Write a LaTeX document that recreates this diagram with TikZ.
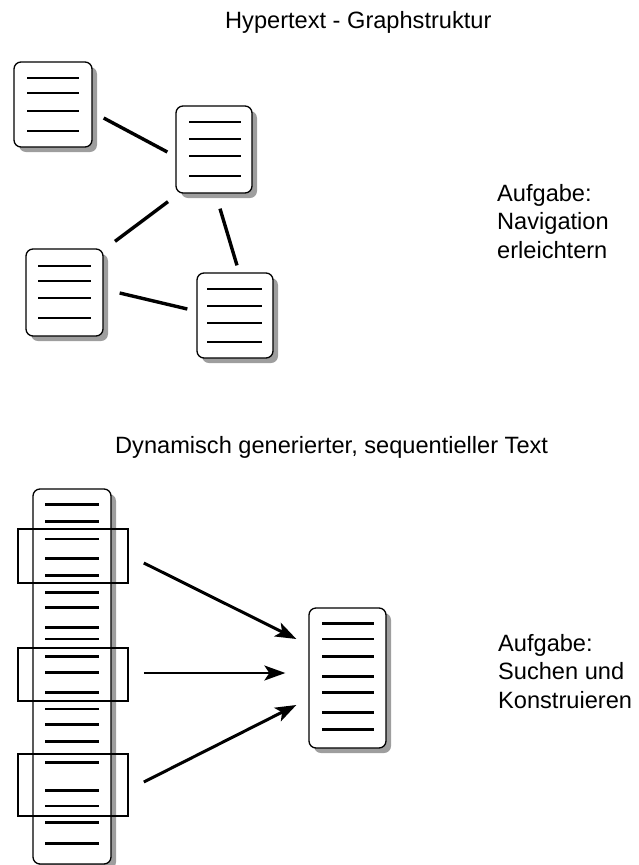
\documentclass[tikz,border=0pt]{standalone}
\usepackage{fontspec}
\setmainfont{Liberation Sans}
\usetikzlibrary{shadows,calc,arrows.meta}

\tikzset{
  doc/.style={draw, line width=1.3pt, rounded corners=7pt, fill=white, inner sep=0pt,
    drop shadow={shadow xshift=5pt, shadow yshift=-5pt, fill=black!38, opacity=1}},
  txtline/.style={line width=2.5pt},
  link/.style={line width=3.4pt},
  frame/.style={draw, line width=1.7pt, inner sep=0pt},
  flow/.style={line width=3pt, -{Stealth[length=21pt, width=15pt, inset=5pt]}},
  label/.style={font=\fontsize{23.6}{28.5}\selectfont, inner sep=0pt},
}

\begin{document}
\begin{tikzpicture}[x=1pt, y=-1pt]
\useasboundingbox (0,0) rectangle (638,865);

% ---------- upper part: hypertext as a graph ----------
\node[label, anchor=base west] (t1) at (225,28) {Hypertext - Graphstruktur};

\node[doc, minimum width=78pt, minimum height=85pt] (A) at (53,104.5) {};
\node[doc, minimum width=76pt, minimum height=87pt] (B) at (214,149.5) {};
\node[doc, minimum width=77pt, minimum height=87pt] (C) at (64.5,292.5) {};
\node[doc, minimum width=76pt, minimum height=85pt] (D) at (235,315.5) {};

\foreach \y in {78,93,111,131} \draw[txtline] (27,\y) -- (79,\y);
\foreach \y in {122,139,156,176} \draw[txtline] (189,\y) -- (241,\y);
\foreach \y in {266,281,298,318} \draw[txtline] (38,\y) -- (91,\y);
\foreach \y in {289,306,323,342} \draw[txtline] (207,\y) -- (262,\y);

\coordinate (ab1) at ($(A.east)+(11,13.5)$);
\coordinate (ab2) at ($(B.west)+(-8,2.5)$);
\coordinate (bc1) at ($(B.south)+(-46,8)$);
\coordinate (bc2) at ($(C.north)+(50.5,-7)$);
\coordinate (bd1) at ($(B.south)+(6,15)$);
\coordinate (bd2) at ($(D.north)+(2,-7)$);
\coordinate (cd1) at ($(C.east)+(16,0.5)$);
\coordinate (cd2) at ($(D.west)+(-9,-6.5)$);

\draw[link] (ab1) -- (ab2);
\draw[link] (bc1) -- (bc2);
\draw[link] (bd1) -- (bd2);
\draw[link] (cd1) -- (cd2);

\node[label, anchor=north west, align=left] (task1) at (497,184)
  {Aufgabe:\\Navigation\\erleichtern};

% ---------- lower part: generated sequential text ----------
\node[label, anchor=base west] (t2) at (115,453) {Dynamisch generierter, sequentieller Text};

\node[doc, minimum width=78pt, minimum height=375pt] (T) at (72,676.5) {};
\foreach \y in {504.3,521.7,539,558.3,575.7,592.3,607.3,627.3,639,656.7,672.7,692.7,
                709,724.3,741.7,762.3,790.7,806,822.7,843.3}
  \draw[txtline] (45,\y) -- (99,\y);

\node[frame, minimum width=110pt, minimum height=54pt] (F1) at (73,556) {};
\node[frame, minimum width=110pt, minimum height=53pt] (F2) at (73,674.5) {};
\node[frame, minimum width=110pt, minimum height=62pt] (F3) at (73,785) {};

\node[doc, minimum width=77pt, minimum height=140pt] (S) at (347.5,678) {};
\foreach \y in {623.3,639,656.7,676.7,692.3,712.7,729.3}
  \draw[txtline] (322,\y) -- (374,\y);

\coordinate (f1s) at ($(F1.east)+(15,7)$);
\coordinate (f1e) at ($(S.west)+(-12,-39)$);
\coordinate (f2s) at ($(F2.east)+(15,-1.5)$);
\coordinate (f2e) at ($(S.west)+(-23,-5)$);
\coordinate (f3s) at ($(F3.east)+(15,-3)$);
\coordinate (f3e) at ($(S.west)+(-12,27)$);

\draw[flow] (f1s) -- (f1e);
\draw[flow, line width=2pt] (f2s) -- (f2e);
\draw[flow] (f3s) -- (f3e);

\node[label, anchor=north west, align=left] (task2) at (498,634)
  {Aufgabe:\\Suchen und\\Konstruieren};

\end{tikzpicture}
\end{document}
